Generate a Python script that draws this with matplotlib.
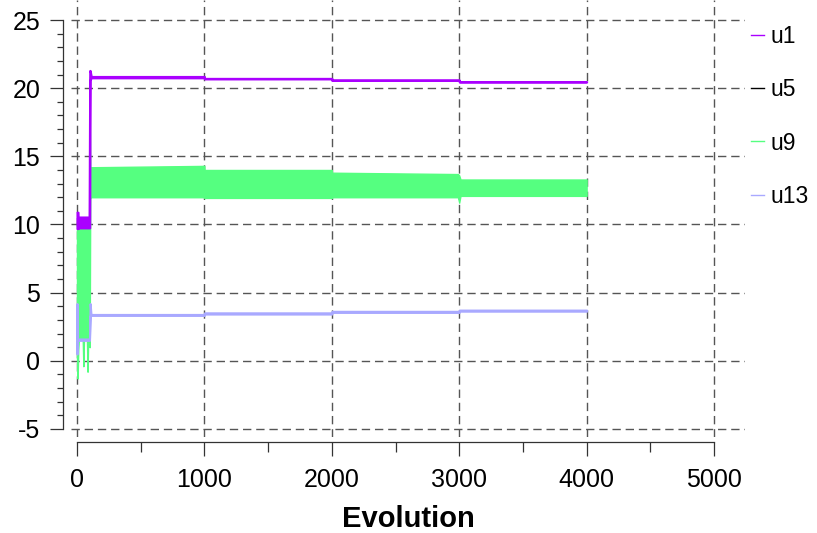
import matplotlib
matplotlib.use("Agg")
import matplotlib.pyplot as plt
from matplotlib.lines import Line2D
from matplotlib.ticker import FixedLocator

plt.rcParams['font.family'] = ['Liberation Sans', 'DejaVu Sans']
plt.rcParams['axes.unicode_minus'] = False

# envelopes (lower / upper), x = evolution step
u1_x  = [0, 8, 9, 95, 100, 103, 112, 1000, 1001, 2000, 2001, 3000, 3001, 4000]
u1_lo = [9.7, 9.7, 9.75, 9.75, 9.75, 20.6, 20.76, 20.76, 20.68, 20.68, 20.57, 20.57, 20.45, 20.45]
u1_hi = [10.9, 10.9, 10.55, 10.55, 21.3, 21.3, 20.86, 20.86, 20.72, 20.72, 20.61, 20.61, 20.48, 20.48]

# u5 sits underneath u1
u5_x = u1_x
u5_v = [10.1, 10.1, 10.1, 10.1, 10.1, 20.8, 20.8, 20.8, 20.7, 20.7, 20.58, 20.58, 20.46, 20.46]

u9_x  = [0, 5, 10, 15, 45, 50, 55, 78, 83, 88, 95, 100, 104, 110,
         1000, 1001, 2000, 2001, 2990, 3000, 3010, 4000]
u9_lo = [0.3, -1.3, 0.8, 1.6, 1.6, -0.4, 1.6, 1.6, -0.8, 1.6, 1.6, 1.0, 12.0, 12.0,
         12.0, 11.95, 11.95, 12.0, 12.0, 11.6, 12.1, 12.1]
u9_hi = [10.0, 10.0, 10.0, 10.0, 10.0, 10.0, 10.0, 10.0, 10.0, 10.0, 10.0, 19.2, 14.2, 14.2,
         14.3, 14.0, 14.0, 13.8, 13.7, 13.6, 13.3, 13.3]

u13_x  = [0, 1, 5, 95, 98, 103, 110, 1000, 1001, 2000, 2001, 3000, 3001, 4000]
u13_lo = [0.5, 1.5, 1.5, 1.5, 1.5, 3.3, 3.33, 3.33, 3.43, 3.43, 3.55, 3.55, 3.64, 3.64]
u13_hi = [4.2, 1.6, 1.6, 1.6, 1.6, 4.2, 3.4, 3.4, 3.52, 3.52, 3.63, 3.63, 3.72, 3.72]

names = ['u1', 'u5', 'u9', 'u13']
colors = ['#aa00ff', '#000000', '#55ff80', '#a9a9ff']

fig = plt.figure(figsize=(8.17, 5.33), dpi=100)
ax = fig.add_axes([71 / 817, 96 / 533, 674 / 817, 437 / 533])

ax.fill_between(u9_x, u9_lo, u9_hi, color=colors[2], lw=1.0, zorder=2)
ax.plot(u5_x, u5_v, color=colors[1], lw=0.3, zorder=2.2)
ax.fill_between(u1_x, u1_lo, u1_hi, color=colors[0], lw=1.5, zorder=2.4)
ax.fill_between(u13_x, u13_lo, u13_hi, color=colors[3], lw=1.5, zorder=2.6)

ax.set_xlim(-47, 5243)
ax.set_ylim(-5.59, 26.47)

ax.xaxis.set_major_locator(FixedLocator(range(0, 5001, 1000)))
ax.xaxis.set_minor_locator(FixedLocator(range(500, 5000, 1000)))
ax.yaxis.set_major_locator(FixedLocator(range(-5, 26, 5)))
ax.yaxis.set_minor_locator(FixedLocator(range(-5, 26)))

for s in ['top', 'right']:
    ax.spines[s].set_visible(False)
ax.spines['left'].set_position(('outward', 5.8))
ax.spines['bottom'].set_position(('outward', 3.6))
ax.spines['left'].set_bounds(-5, 25)
ax.spines['bottom'].set_bounds(0, 5000)
for s in ['left', 'bottom']:
    ax.spines[s].set_color('#333333')
    ax.spines[s].set_linewidth(0.9)

ax.tick_params(axis='y', which='major', length=9.4, width=0.9, color='#333333',
               labelsize=18, pad=7)
ax.tick_params(axis='y', which='minor', length=4.3, width=0.9, color='#333333')
ax.tick_params(axis='x', which='major', length=10, width=0.9, color='#333333',
               labelsize=18, pad=9)
ax.tick_params(axis='x', which='minor', length=7, width=0.9, color='#333333')

ax.grid(True, which='major', color='#555555', lw=1.0, ls=(0, (6, 3.5)))
ax.set_axisbelow(True)

ax.set_xlabel('Evolution', fontsize=21, fontweight='bold', labelpad=9)

handles = [Line2D([], [], color=c, lw=1.0) for c in colors]
fig.legend(handles, names, loc='upper left', bbox_to_anchor=(751 / 817, 1 - 25 / 533),
           frameon=False, fontsize=16.5, handlelength=0.57, handletextpad=0.26,
           labelspacing=1.32, borderpad=0, borderaxespad=0)

fig.savefig('out.png', dpi=100)
